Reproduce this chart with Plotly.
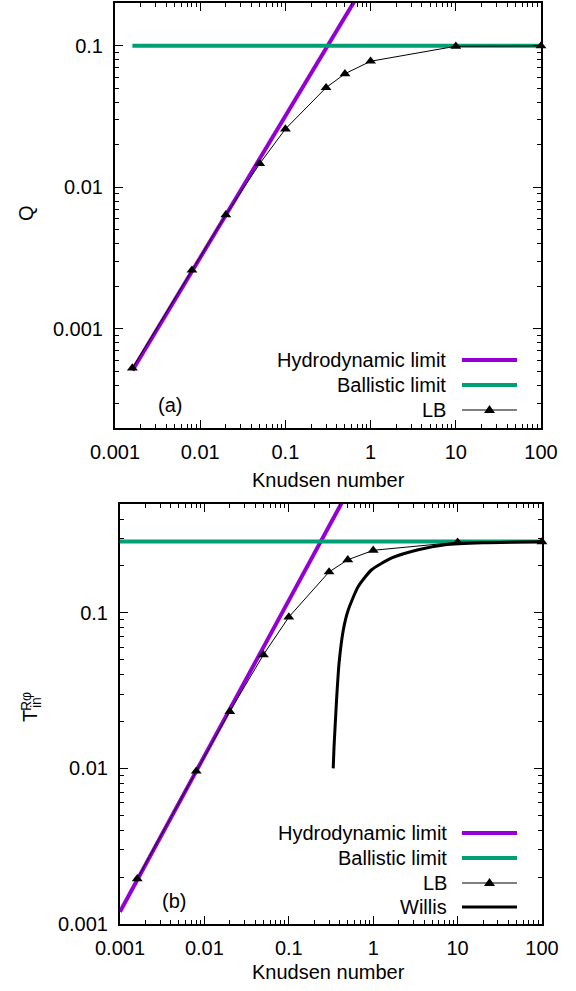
import plotly.graph_objects as go

W, H = 576, 991

# ---- data ----
# panel (a): heat flux Q versus Knudsen number
kn_lb = [0.0016, 0.008, 0.02, 0.05, 0.1, 0.3, 0.5, 1.0, 10.0, 100.0]
q_lb = [0.00053, 0.0026, 0.0064, 0.0147, 0.0258, 0.0505, 0.0633, 0.0776, 0.099, 0.0995]
kn_hydro_a = [0.0016, 0.7]
q_hydro = [0.00051, 0.223]
kn_ball_a = [0.0016, 100.0]
q_ball = [0.1, 0.1]

# panel (b): T_in^{Rphi} versus Knudsen number
t_lb = [0.00195, 0.0096, 0.0232, 0.0537, 0.0938, 0.183, 0.219, 0.252, 0.284, 0.286]
kn_hydro_b = [0.001, 0.5]
t_hydro = [0.0012, 0.6]
kn_ball_b = [0.001, 100.0]
t_ball = [0.287, 0.287]
kn_willis = [0.336, 0.343, 0.352, 0.37, 0.394, 0.443, 0.507, 0.665, 0.959, 1.66, 3.42, 7.1, 20.0, 100.0]
t_willis = [0.0100, 0.0135, 0.0177, 0.0290, 0.0475, 0.0778, 0.1045, 0.1476, 0.189, 0.225, 0.254, 0.2735, 0.282, 0.286]

x_ticks = [0.001, 0.01, 0.1, 1, 10, 100]
x_ticktext = ["0.001", "0.01", "0.1", "1", "10", "100"]
y_ticks = [0.001, 0.01, 0.1]
y_ticktext = ["0.001", "0.01", "0.1"]

PURPLE = "#9400d3"
GREEN = "#009e73"
FONT = "Liberation Sans, Arial, sans-serif"
FS = 20


def px(x):
    return x / W


def py(y):
    return 1 - y / H


minor_vals = [m * 10 ** e for e in range(-4, 3) for m in range(2, 10)]

fig = go.Figure()

# panel (a)
fig.add_trace(go.Scatter(x=kn_hydro_a, y=q_hydro, mode="lines",
                         line=dict(color=PURPLE, width=4), xaxis="x", yaxis="y"))
fig.add_trace(go.Scatter(x=kn_ball_a, y=q_ball, mode="lines",
                         line=dict(color=GREEN, width=4), xaxis="x", yaxis="y"))
fig.add_trace(go.Scatter(x=kn_lb, y=q_lb, mode="lines+markers",
                         line=dict(color="black", width=1),
                         marker=dict(symbol="triangle-up", size=9.5, color="black"),
                         cliponaxis=False, xaxis="x", yaxis="y"))

# panel (b)
fig.add_trace(go.Scatter(x=kn_hydro_b, y=t_hydro, mode="lines",
                         line=dict(color=PURPLE, width=4), xaxis="x2", yaxis="y2"))
fig.add_trace(go.Scatter(x=kn_ball_b, y=t_ball, mode="lines",
                         line=dict(color=GREEN, width=4), xaxis="x2", yaxis="y2"))
fig.add_trace(go.Scatter(x=kn_lb, y=t_lb, mode="lines+markers",
                         line=dict(color="black", width=1),
                         marker=dict(symbol="triangle-up", size=9.5, color="black"),
                         cliponaxis=False, xaxis="x2", yaxis="y2"))
fig.add_trace(go.Scatter(x=kn_willis, y=t_willis, mode="lines",
                         line=dict(color="black", width=3, shape="spline", smoothing=0.6),
                         xaxis="x2", yaxis="y2"))


def axis_style(**kw):
    d = dict(type="log", showline=True, linewidth=2, linecolor="black", mirror="ticks",
             ticks="inside", ticklen=8, tickwidth=1, tickcolor="black",
             showgrid=False, zeroline=False, automargin=False,
             tickfont=dict(family=FONT, size=FS, color="black"),
             minor=dict(tickvals=minor_vals, ticks="inside", ticklen=4,
                        tickwidth=1, tickcolor="black", showgrid=False))
    d.update(kw)
    return d


layout = dict(
    width=W, height=H, showlegend=False, autosize=False,
    margin=dict(l=0, r=0, t=0, b=0, pad=0, autoexpand=False),
    paper_bgcolor="white", plot_bgcolor="white",
    font=dict(family=FONT, size=FS, color="black"),
    xaxis=axis_style(domain=[px(115), px(541)], anchor="y", range=[-3, 2],
                     tickvals=x_ticks, ticktext=x_ticktext, ticklabelstandoff=5),
    yaxis=axis_style(domain=[py(428), py(3)], anchor="x", range=[-3.699, -0.699],
                     tickvals=y_ticks, ticktext=y_ticktext, ticklabelstandoff=6),
    xaxis2=axis_style(domain=[px(120), px(542)], anchor="y2", range=[-3, 2],
                      tickvals=x_ticks, ticktext=x_ticktext, ticklabelstandoff=5),
    yaxis2=axis_style(domain=[py(924), py(504)], anchor="x2", range=[-3, -0.301],
                      tickvals=y_ticks, ticktext=y_ticktext, ticklabelstandoff=6),
)
fig.update_layout(**layout)


def text(x, y, s, size=FS, xanchor="center", angle=0):
    fig.add_annotation(x=px(x), y=py(y), xref="paper", yref="paper", text=s,
                       showarrow=False, xanchor=xanchor, yanchor="middle",
                       textangle=angle, font=dict(family=FONT, size=size, color="black"))


# axis titles
text(328, 480, "Knudsen number")
text(328, 972, "Knudsen number")
text(26, 213, "Q", angle=-90)
text(30, 716, "T", angle=-90)
text(26, 702, "Rφ", size=14, angle=-90)
text(36, 703, "in", size=14, angle=-90)

# panel tags
text(170, 405, "(a)")
text(174, 901, "(b)")


# key: label right-aligned, sample to its right
def key_entry(y, label, color, width, marker=False, text_right=448, x0=462, x1=517):
    text(text_right, y, label, xanchor="right")
    fig.add_shape(type="line", xref="paper", yref="paper",
                  x0=px(x0), x1=px(x1), y0=py(y), y1=py(y),
                  line=dict(color=color, width=width))
    if marker:
        cx = (x0 + x1) / 2
        path = (f"M {px(cx - 5.5)} {py(y + 3)} L {px(cx + 5.5)} {py(y + 3)} "
                f"L {px(cx)} {py(y - 5)} Z")
        fig.add_shape(type="path", xref="paper", yref="paper", path=path,
                      fillcolor="black", line=dict(color="black", width=0))


key_entry(360, "Hydrodynamic limit", PURPLE, 4)
key_entry(385, "Ballistic limit", GREEN, 4)
key_entry(410, "LB", "black", 1, marker=True)

key_entry(833, "Hydrodynamic limit", PURPLE, 4, text_right=449)
key_entry(858, "Ballistic limit", GREEN, 4, text_right=449)
key_entry(883, "LB", "black", 1, marker=True, text_right=449)
key_entry(907, "Willis", "black", 3, text_right=449)

fig.write_html("out.html")
